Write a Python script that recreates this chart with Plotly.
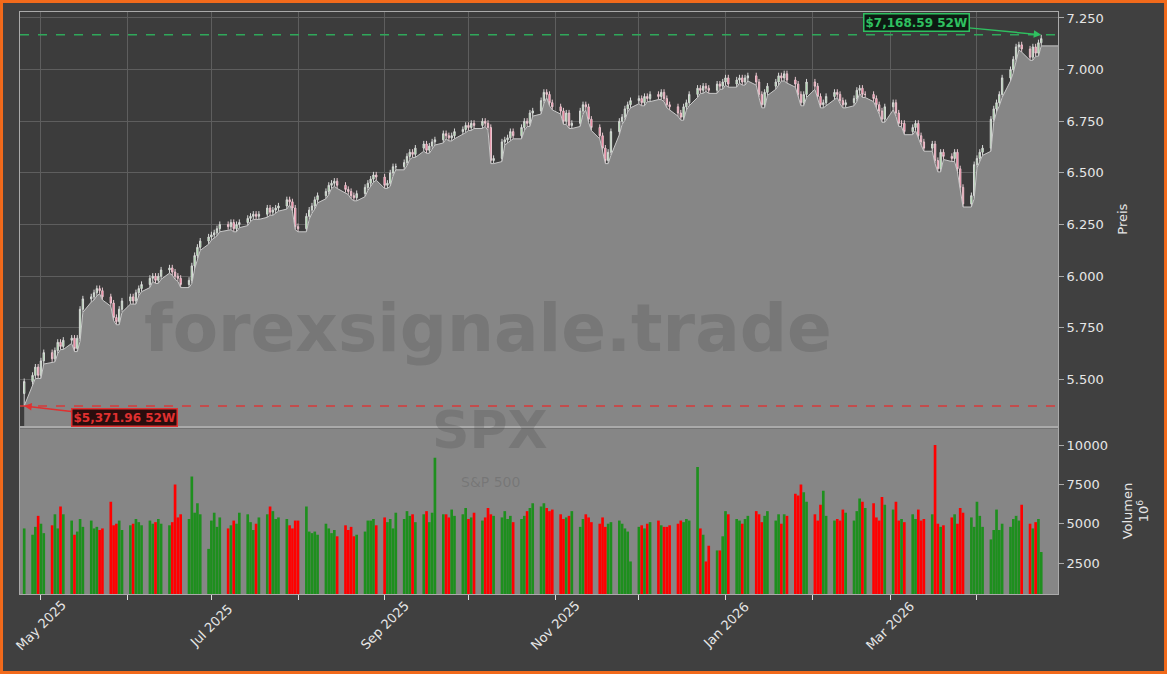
import pandas as pd
import plotly.graph_objects as go

# daily closes, one row per two weeks
closes = [
    5490, 5520, 5560, 5520, 5590, 5630, 5600, 5640, 5680, 5660,
    5690, 5700, 5650, 5700, 5840, 5890, 5900, 5920, 5940, 5930,
    5900, 5870, 5800, 5780, 5840, 5880, 5900, 5880, 5920, 5940,
    5960, 5990, 6000, 5980, 6000, 6030, 6040, 6020, 6000, 5990,
    5960, 5980, 6050, 6100, 6140, 6170, 6190, 6200, 6210, 6230,
    6250, 6240, 6260, 6230, 6250, 6260, 6280, 6290, 6300, 6290,
    6300, 6330, 6310, 6320, 6330, 6340, 6370, 6360, 6330, 6240,
    6230, 6290, 6320, 6340, 6370, 6390, 6410, 6440, 6450, 6460,
    6440, 6420, 6410, 6390, 6380, 6400, 6430, 6450, 6470, 6490,
    6480, 6440, 6450, 6500, 6530, 6530, 6550, 6580, 6600, 6590,
    6620, 6640, 6610, 6630, 6650, 6660, 6690, 6680, 6670, 6680,
    6700, 6710, 6730, 6720, 6740, 6730, 6750, 6740, 6720, 6560,
    6570, 6650, 6660, 6670, 6700, 6680, 6720, 6750, 6740, 6790,
    6800, 6850, 6890, 6880, 6840, 6820, 6800, 6750, 6790, 6730,
    6740, 6800, 6830, 6820, 6760, 6720, 6680, 6620, 6560, 6600,
    6700, 6750, 6770, 6810, 6830, 6850, 6860, 6840, 6870, 6860,
    6880, 6870, 6890, 6860, 6830, 6820, 6790, 6770, 6820, 6840,
    6880, 6910, 6900, 6920, 6910, 6900, 6930, 6920, 6940, 6960,
    6930, 6950, 6960, 6940, 6960, 6970, 6940, 6880, 6830, 6890,
    6920, 6940, 6970, 6960, 6980, 6950, 6930, 6880, 6840, 6880,
    6940, 6920, 6870, 6830, 6840, 6870, 6890, 6880, 6850, 6830,
    6840, 6860, 6900, 6910, 6880, 6880, 6860, 6830, 6800, 6760,
    6820, 6840, 6790, 6740, 6740, 6700, 6720, 6740, 6680, 6650,
    6620, 6640, 6560, 6520, 6600, 6580, 6570, 6600, 6520, 6430,
    6350, 6390, 6540, 6570, 6600, 6620, 6760, 6810, 6840, 6880,
    6960, 7000, 7050, 7110, 7120, 7100, 7060, 7110, 7080, 7130,
    7150,
]
volumes = [
    4700, 4300, 4800, 5500, 5000, 4400, 4900, 5600, 4700, 6100,
    5600, 5200, 4300, 4500, 5300, 4800, 5200, 4700, 4800, 4600,
    4700, 6400, 4900, 5000, 5200, 4600, 4900, 5000, 5300, 5100,
    4900, 5200, 5000, 5100, 5300, 5000, 4900, 5100, 7500, 5400,
    5600, 5300, 8000, 5700, 6300, 5600, 3400, 5200, 5700, 4800,
    5400, 4700, 4900, 5200, 5000, 5700, 5600, 5100, 4600, 5000,
    5400, 5600, 6100, 5800, 5300, 5400, 5300, 4900, 4700, 5200,
    5200, 6100, 4500, 4400, 4500, 4300, 5000, 4700, 4400, 4600,
    4200, 4900, 4600, 4800, 4200, 4300, 4500, 5200, 5200, 5300,
    4900, 5400, 5100, 5300, 4700, 5700, 5300, 5800, 5500, 5600,
    5100, 5600, 5800, 5100, 5700, 9200, 5600, 5600, 5400, 5900,
    5500, 5600, 6000, 5300, 5400, 5700, 5200, 5400, 6000, 5600,
    5500, 5400, 5800, 5300, 5500, 5100, 5300, 5500, 5800, 6000,
    6300, 6100, 6300, 6000, 5800, 5900, 5600, 5300, 5400, 5500,
    5800, 4800, 5300, 5600, 5400, 5100, 5000, 5400, 4800, 5000,
    5100, 5200, 5000, 4700, 4500, 2600, 4800, 4900, 4700, 5000,
    5100, 5200, 4900, 4800, 4800, 4900, 5000, 5200, 5100, 5300,
    5200, 8600, 4700, 4300, 2600, 3600, 3300, 3300, 4200, 5800,
    5600, 5300, 5200, 5000, 5300, 5500, 5800, 5600, 5100, 5500,
    5800, 5200, 5600, 5000, 5600, 5500, 6900, 6800, 7500, 7000,
    6400, 5600, 5200, 6200, 7100, 5500, 5200, 5300, 5200, 5900,
    5700, 5200, 5800, 6600, 6400, 6000, 6300, 5400, 5200, 6700,
    6200, 5900, 6400, 5200, 5300, 5100, 5600, 5300, 5900, 5200,
    5300, 5600, 10000, 5000, 4800, 4900, 5400, 5600, 5000, 6000,
    5700, 5400, 4800, 6400, 5500, 4800, 4000, 4600, 5900, 4600,
    5000, 4800, 5300, 5500, 5200, 6200, 5000, 4700, 5100, 5300,
    3200,
]
high_52w = 7168.59
low_52w = 5371.96
label_months = pd.date_range("2025-05-01", "2026-03-01", freq="2MS")

dates = pd.bdate_range("2025-04-25", periods=len(closes))
opens = [low_52w + 60] + closes[:-1]
highs = [max(o, c) + 15 for o, c in zip(opens, closes)]
lows = [min(o, c) - 15 for o, c in zip(opens, closes)]
highs[-1] = high_52w
lows[0] = low_52w
vol_colors = ["#1e8f1e" if c >= o else "#ff0000" for o, c in zip(opens, closes)]

x_end = pd.Timestamp("2026-04-30")
fig = go.Figure()
fig.add_trace(go.Scatter(x=list(dates) + [x_end], y=lows + [lows[-1]], mode="lines",
                         line=dict(color="#c8c8c8", width=1), fill="tozeroy",
                         fillcolor="#868686", hoverinfo="skip", xaxis="x", yaxis="y"))
fig.add_trace(go.Candlestick(x=dates, open=opens, high=highs, low=lows, close=closes, whiskerwidth=0,
                             increasing=dict(fillcolor="#8fe08f", line=dict(color="#d8d8d8", width=1)),
                             decreasing=dict(fillcolor="#ff5c85", line=dict(color="#e8c8d0", width=1)),
                             xaxis="x", yaxis="y"))
fig.add_trace(go.Bar(x=dates, y=volumes, marker=dict(color=vol_colors, line=dict(width=0)),
                     xaxis="x2", yaxis="y2"))

fnt = dict(family="DejaVu Sans", color="#e6e6e6", size=13)
xr = ["2025-04-23 12:00", x_end]
fig.update_layout(
    width=1167, height=674, showlegend=False, separators=",.",
    paper_bgcolor="#404040", plot_bgcolor="#3c3c3c", font=fnt,
    margin=dict(l=20, r=109, t=12, b=80),
    xaxis=dict(domain=[0, 1], range=xr, rangeslider=dict(visible=False), showticklabels=False,
               dtick="M1", tick0="2025-05-01", gridcolor="#5e5e5e", showline=True, linecolor="#aaaaaa",
               mirror=True, anchor="y", automargin=False),
    yaxis=dict(domain=[0.288, 1], range=[5273, 7279], side="right", tickvals=list(range(5500, 7251, 250)),
               tickformat=",d", gridcolor="#5e5e5e", ticks="outside", ticklen=5, tickcolor="#aaaaaa",
               title=dict(text="Preis", font=dict(size=13)), showline=True, linecolor="#aaaaaa",
               mirror=True, zeroline=False, anchor="x", automargin=False),
    xaxis2=dict(domain=[0, 1], range=xr, dtick="M1", tick0="2025-05-01", showticklabels=False,
                ticks="outside", ticklen=5, tickcolor="#dddddd", showgrid=False, anchor="y2",
                automargin=False, showline=True, linecolor="#aaaaaa", mirror=True),
    yaxis2=dict(domain=[0, 0.285], range=[530, 11080], side="right", tickvals=[2500, 5000, 7500, 10000],
                tickformat="d", showgrid=False, ticks="outside", ticklen=5, tickcolor="#aaaaaa",
                title=dict(text="Volumen<br>10<sup>6</sup>", font=dict(size=13)), anchor="x2",
                showline=True, linecolor="#aaaaaa", mirror=True, zeroline=False, automargin=False),
    bargap=0.05,
)
# rotated month labels centred under their ticks
for m in label_months:
    fig.add_annotation(x=m, y=-0.054, xref="x2", yref="paper", text=m.strftime("%b %Y"), textangle=-45,
                       showarrow=False, xanchor="center", yanchor="middle",
                       font=dict(size=13, color="#e6e6e6"))
fig.add_shape(type="rect", xref="x2 domain", yref="y2 domain", x0=0, x1=1, y0=0, y1=1,
              fillcolor="#868686", line=dict(width=0), layer="below")
fig.add_shape(type="line", xref="x domain", yref="y", x0=0, x1=1, y0=high_52w, y1=high_52w,
              line=dict(color="#2fa85a", width=1.5, dash="dash"))
fig.add_shape(type="line", xref="x domain", yref="y", x0=0, x1=1, y0=low_52w, y1=low_52w,
              line=dict(color="#d83a3a", width=1.5, dash="dash"))
fig.add_shape(type="rect", xref="paper", yref="paper", x0=-0.0178, x1=1.1036, y0=-0.1349, y1=1.018,
              line=dict(color="#f26a1b", width=3))
fig.add_annotation(x=dates[-1], y=high_52w, xref="x", yref="y", text="<b>$7,168.59 52W</b>",
                   showarrow=True, arrowhead=2, arrowsize=1, arrowwidth=1.5, arrowcolor="#2fc060",
                   ax=-125, ay=-12, bgcolor="#0d1a12", bordercolor="#2fc060", borderwidth=1.5,
                   font=dict(color="#2fc060", size=12, family="DejaVu Sans"))
fig.add_annotation(x=dates[0], y=low_52w, xref="x", yref="y", text="<b>$5,371.96 52W</b>",
                   showarrow=True, arrowhead=2, arrowsize=1, arrowwidth=1.5, arrowcolor="#e03030",
                   ax=100, ay=12, bgcolor="#2a0d0d", bordercolor="#e03030", borderwidth=1.5,
                   font=dict(color="#e03030", size=12, family="DejaVu Sans"))
fig.add_annotation(x=0.451, y=0.457, xref="paper", yref="paper", text="<b>forexsignale.trade</b>",
                   showarrow=False, font=dict(size=66, color="rgba(60,60,60,0.2)"))
fig.add_annotation(x=0.453, y=0.227, xref="paper", yref="paper", text="<b>SPX</b>",
                   showarrow=False, font=dict(size=52, color="rgba(70,70,70,0.22)"))
fig.add_annotation(x=0.453, y=0.175, xref="paper", yref="paper", text="S&P 500",
                   showarrow=False, font=dict(size=14, color="rgba(70,70,70,0.25)"))
fig.write_html("out.html", config={"displayModeBar": False},
               post_script="document.body.style.margin='0';")
